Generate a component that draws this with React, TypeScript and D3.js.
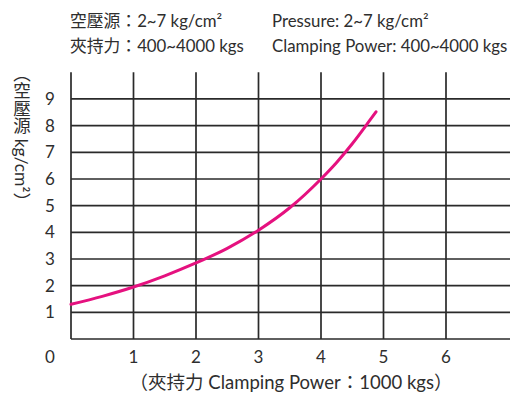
import React from "react";
import * as d3 from "d3";

const W = 513;
const H = 394;

const curveX = [0, 0.5, 1, 1.5, 2, 2.5, 3, 3.5, 4, 4.25, 4.5, 4.75, 4.88];
const curveY = [1.3, 1.6, 1.95, 2.37, 2.85, 3.4, 4.08, 4.92, 6.0, 6.62, 7.32, 8.1, 8.52];
const xTicks = [1, 2, 3, 4, 5, 6];
const yTicks = [1, 2, 3, 4, 5, 6, 7, 8, 9];
const xGrid = [0, 1, 2, 3, 4, 5, 6];
const yGrid = [0, 1, 2, 3, 4, 5, 6, 7, 8, 9];
const headerLeft = ["空壓源：2~7 kg/cm²", "夾持力：400~4000 kgs"];
const headerRight = ["Pressure: 2~7 kg/cm²", "Clamping Power: 400~4000 kgs"];
const xTitle = "（夾持力 Clamping Power：1000 kgs）";
const yTitle = "（空壓源 kg/cm²）";

const FONT = "Lato, 'Noto Sans CJK TC', 'Noto Sans', sans-serif";
const TXT = "#2e2e2e";

export default function App() {
  const x = d3.scaleLinear().domain([0, 7]).range([71, 508.5]);
  const y = d3.scaleLinear().domain([0, 10]).range([339, 72.3]);
  const pts: [number, number][] = curveX.map((v, i) => [v, curveY[i]]);
  const line = d3
    .line<[number, number]>()
    .x((d) => x(d[0]))
    .y((d) => y(d[1]))
    .curve(d3.curveMonotoneX);

  return (
    <svg
      width={W}
      height={H}
      style={{ position: "absolute", left: 0, top: 0, background: "#fff" }}
      fontFamily={FONT}
    >
      <rect x={0} y={0} width={W} height={H} fill="#fff" />
      {headerLeft.map((t, i) => (
        <text key={"hl" + i} x={70} y={21 + i * 25} dy="0.35em" fontSize={16.8} fill={TXT}>
          {t}
        </text>
      ))}
      {headerRight.map((t, i) => (
        <text key={"hr" + i} x={272} y={21 + i * 25} dy="0.35em" fontSize={16.8} fill={TXT}>
          {t}
        </text>
      ))}
      {yGrid.map((v) => (
        <line
          key={"hy" + v}
          x1={x(0)}
          x2={510}
          y1={y(v)}
          y2={y(v)}
          stroke="#2a2a2a"
          strokeWidth={1.7}
        />
      ))}
      {xGrid.map((v) => (
        <line
          key={"vx" + v}
          x1={x(v)}
          x2={x(v)}
          y1={y(0)}
          y2={y(10)}
          stroke="#2a2a2a"
          strokeWidth={1.7}
        />
      ))}
      <path d={line(pts) || ""} fill="none" stroke="#e5117f" strokeWidth={3} strokeLinecap="round" />
      {yTicks.map((v) => (
        <text key={"yt" + v} x={50} y={y(v)} dy="0.35em" textAnchor="middle" fontSize={17} fill={TXT}>
          {v}
        </text>
      ))}
      <text x={50} y={357} dy="0.35em" textAnchor="middle" fontSize={17} fill={TXT}>
        0
      </text>
      {xTicks.map((v) => (
        <text key={"xt" + v} x={x(v)} y={357} dy="0.35em" textAnchor="middle" fontSize={17} fill={TXT}>
          {v}
        </text>
      ))}
      <text x={291} y={383} dy="0.35em" textAnchor="middle" fontSize={18.5} fill={TXT}>
        {xTitle}
      </text>
      <text
        x={21}
        y={137}
        textAnchor="middle"
        fontSize={17.5}
        fill={TXT}
        style={{ writingMode: "vertical-rl" as any }}
      >
        {yTitle}
      </text>
    </svg>
  );
}
